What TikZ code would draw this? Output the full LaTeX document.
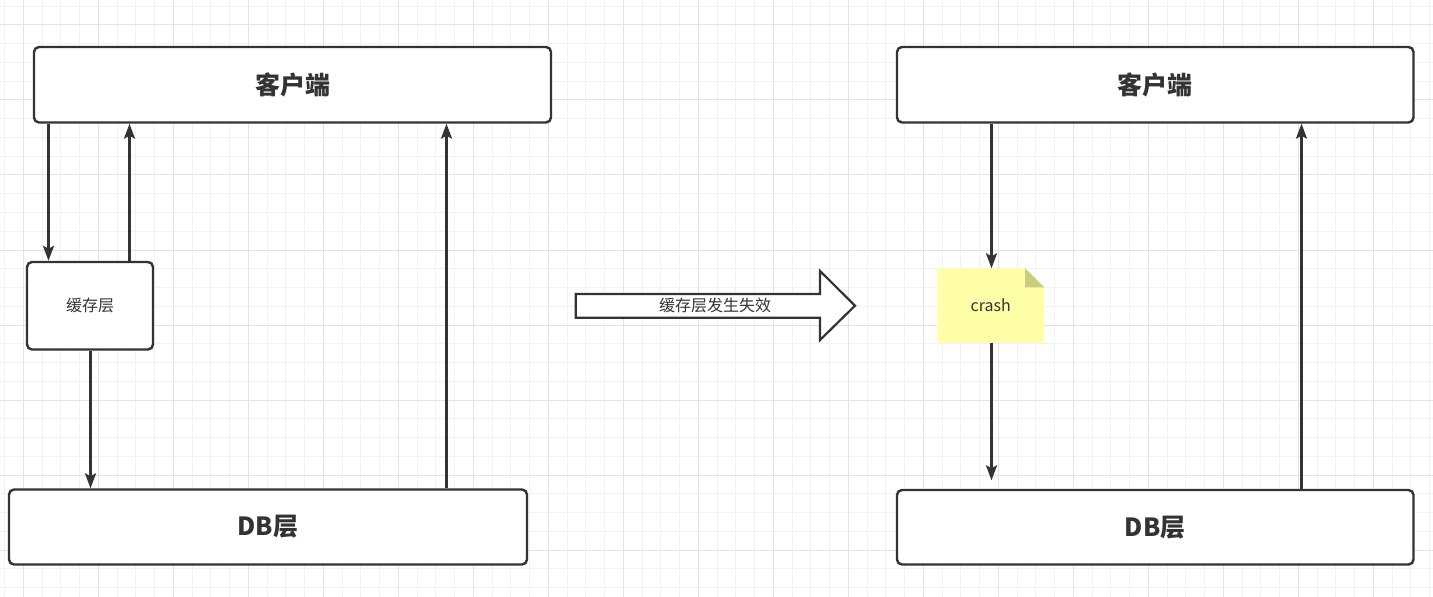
\documentclass[tikz,border=0pt]{standalone}
\usepackage{fontspec}
\setmainfont{Noto Sans CJK SC}
\usetikzlibrary{arrows.meta,calc}
\definecolor{ink}{HTML}{333333}
\definecolor{gridminor}{HTML}{F2F2F2}
\definecolor{gridmajor}{HTML}{E3E3E3}
\definecolor{notefill}{HTML}{FFFFA8}
\definecolor{notefold}{HTML}{CCCC7E}
\tikzset{
  box/.style={draw=ink, line width=2.4bp, fill=white, rounded corners=5bp, inner sep=0pt, text=ink},
  bigtitle/.style={font=\fontsize{25bp}{30bp}\selectfont\bfseries},
  smalltext/.style={font=\fontsize{16bp}{19bp}\selectfont, text=ink},
  arr/.style={draw=ink, line width=2.4bp, -{Stealth[length=15bp, width=11bp, inset=3bp]}},
}
\begin{document}
\begin{tikzpicture}[x=1bp, y=-1bp]
\useasboundingbox (0,0) rectangle (1433,597);
\fill[white] (0,0) rectangle (1433,597);
% grid
\foreach \k in {0,...,76} {\draw[gridminor, line width=1bp] ({4.55+18.75*\k},0) -- ({4.55+18.75*\k},597);}
\foreach \k in {0,...,31} {\draw[gridminor, line width=1bp] (0,{6.25+18.75*\k}) -- (1433,{6.25+18.75*\k});}
\foreach \k in {0,...,18} {\draw[gridmajor, line width=1bp] ({23.3+75*\k},0) -- ({23.3+75*\k},597);}
\foreach \k in {0,...,7} {\draw[gridmajor, line width=1bp] (0,{25+75*\k}) -- (1433,{25+75*\k});}

% left side
\node[box, bigtitle, minimum width=517bp, minimum height=75.5bp] (lc) at (292.5,84.75) {客户端};
\node[box, bigtitle, minimum width=518bp, minimum height=75bp] (ldb) at (268,527) {DB层};
\node[box, smalltext, minimum width=126bp, minimum height=87.5bp] (cache) at (90,305.75) {缓存层};
\coordinate (xa) at (48.5,0);
\coordinate (xb) at (129.5,0);
\coordinate (xc) at (90.5,0);
\coordinate (xd) at (446.5,0);
\draw[arr] (lc.south -| xa) -- (cache.north -| xa);
\draw[arr] (cache.north -| xb) -- (lc.south -| xb);
\draw[arr] (cache.south -| xc) -- (ldb.north -| xc);
\draw[arr] (ldb.north -| xd) -- (lc.south -| xd);

% big arrow
\draw[draw=ink, line width=2.2bp, fill=white, line join=miter]
  (575.7,294) -- (820,294) -- (820,271) -- (855,305.7) -- (820,340) -- (820,317.7) -- (575.7,317.7) -- cycle;
\node[smalltext, inner sep=0pt] (failtext) at (715,305.8) {缓存层发生失效};

% right side
\node[box, bigtitle, minimum width=516.5bp, minimum height=75.5bp] (rc) at (1155.25,84.75) {客户端};
\node[box, bigtitle, minimum width=516.5bp, minimum height=74.5bp] (rdb) at (1155.25,527.25) {DB层};
\node[inner sep=0pt, minimum width=106.5bp, minimum height=74bp] (crash) at (990.75,305.5) {};
\fill[notefill] (crash.north west) -- ($(crash.north east)+(-19,0)$) -- ($(crash.north east)+(0,19)$) -- (crash.south east) -- (crash.south west) -- cycle;
\fill[notefold] ($(crash.north east)+(-19,0)$) -- ($(crash.north east)+(-19,19)$) -- ($(crash.north east)+(0,19)$) -- cycle;
\node[smalltext, inner sep=0pt] (crashtext) at (crash.center) {crash};
\coordinate (xf) at (991.5,0);
\coordinate (xe) at (1301.5,0);
\draw[arr] (rc.south -| xf) -- (crash.north -| xf);
\draw[arr, shorten >=8.5bp] (crash.south -| xf) -- (rdb.north -| xf);
\draw[arr] (rdb.north -| xe) -- (rc.south -| xe);
\end{tikzpicture}
\end{document}
